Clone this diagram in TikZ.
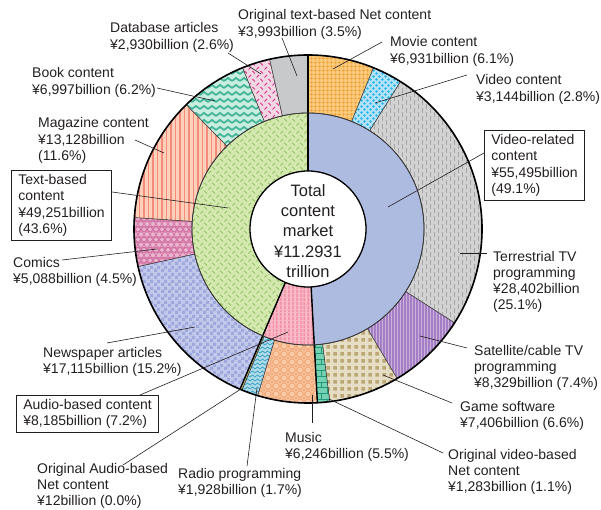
\documentclass[tikz,border=0pt]{standalone}
\usepackage{fontspec}
\setmainfont{Liberation Sans}
\usetikzlibrary{patterns,patterns.meta}

\definecolor{txt}{HTML}{231F20}
\definecolor{segline}{HTML}{3A3A3A}
\definecolor{movieB}{HTML}{FAC97A}\definecolor{movieP}{HTML}{EC9F36}
\definecolor{vidB}{HTML}{B2E3F8}\definecolor{vidP}{HTML}{2FB3E8}
\definecolor{terrB}{HTML}{D2D2D2}\definecolor{terrP}{HTML}{A5A5A5}
\definecolor{satB}{HTML}{CBB0DD}\definecolor{satP}{HTML}{A47FC4}
\definecolor{gameB}{HTML}{E6DDC5}\definecolor{gameP}{HTML}{BBA676}
\definecolor{ovB}{HTML}{74D2B3}\definecolor{ovP}{HTML}{22977A}
\definecolor{musB}{HTML}{FACCAA}\definecolor{musP}{HTML}{EE9D6B}
\definecolor{radB}{HTML}{AEDCEB}\definecolor{radP}{HTML}{4DA8C8}
\definecolor{oaB}{HTML}{BDB66C}
\definecolor{newsB}{HTML}{C3C9EB}\definecolor{newsP}{HTML}{9FA9DC}
\definecolor{comB}{HTML}{EBB5CE}\definecolor{comP}{HTML}{D275A6}
\definecolor{magB}{HTML}{FDD0BA}\definecolor{magP}{HTML}{F48C7C}
\definecolor{bookB}{HTML}{C9EDE0}\definecolor{bookP}{HTML}{46B698}
\definecolor{dbB}{HTML}{F2D7E3}\definecolor{dbP}{HTML}{D1358A}
\definecolor{otB}{HTML}{C8C9CA}
\definecolor{ivB}{HTML}{ADBBE0}
\definecolor{iaB}{HTML}{F9B8C6}\definecolor{iaP}{HTML}{F0869E}
\definecolor{itB}{HTML}{D3E8AE}\definecolor{itP}{HTML}{93C061}

\pgfdeclarepatternformonly{vdashes}{\pgfqpoint{-1pt}{-1pt}}{\pgfqpoint{9pt}{11pt}}{\pgfqpoint{8pt}{8pt}}{%
  \pgfsetlinewidth{0.9pt}%
  \pgfpathmoveto{\pgfqpoint{2pt}{0.5pt}}\pgfpathlineto{\pgfqpoint{2pt}{5.5pt}}%
  \pgfpathmoveto{\pgfqpoint{6pt}{4.5pt}}\pgfpathlineto{\pgfqpoint{6pt}{9.5pt}}%
  \pgfusepath{stroke}}
\pgfdeclarepatternformonly{hexdots}{\pgfqpoint{-1pt}{-1pt}}{\pgfqpoint{7pt}{7pt}}{\pgfqpoint{6pt}{6pt}}{%
  \pgfpathcircle{\pgfqpoint{1.5pt}{1.5pt}}{1.3pt}\pgfpathcircle{\pgfqpoint{4.5pt}{4.5pt}}{1.3pt}\pgfusepath{fill}}
\pgfdeclarepatternformonly{squares}{\pgfqpoint{0pt}{0pt}}{\pgfqpoint{6.5pt}{6.5pt}}{\pgfqpoint{6.5pt}{6.5pt}}{%
  \pgfpathrectangle{\pgfqpoint{1.5pt}{1.5pt}}{\pgfqpoint{3.6pt}{3.6pt}}\pgfusepath{fill}}
\pgfdeclarepatternformonly{zigsmall}{\pgfqpoint{-1pt}{-1pt}}{\pgfqpoint{6pt}{5pt}}{\pgfqpoint{5pt}{4pt}}{%
  \pgfsetlinewidth{0.9pt}\pgfpathmoveto{\pgfqpoint{0pt}{1pt}}\pgfpathlineto{\pgfqpoint{2.5pt}{3pt}}\pgfpathlineto{\pgfqpoint{5pt}{1pt}}\pgfusepath{stroke}}
\pgfdeclarepatternformonly{zigbig}{\pgfqpoint{-1pt}{-1pt}}{\pgfqpoint{9pt}{8pt}}{\pgfqpoint{8pt}{7pt}}{%
  \pgfsetlinewidth{1.8pt}\pgfpathmoveto{\pgfqpoint{0pt}{2pt}}\pgfpathlineto{\pgfqpoint{4pt}{5pt}}\pgfpathlineto{\pgfqpoint{8pt}{2pt}}\pgfusepath{stroke}}
\pgfdeclarepatternformonly{checks}{\pgfqpoint{0pt}{0pt}}{\pgfqpoint{7pt}{7pt}}{\pgfqpoint{7pt}{7pt}}{%
  \pgfpathrectangle{\pgfqpoint{0pt}{0pt}}{\pgfqpoint{3.5pt}{3.5pt}}\pgfpathrectangle{\pgfqpoint{3.5pt}{3.5pt}}{\pgfqpoint{3.5pt}{3.5pt}}\pgfusepath{fill}}
\pgfdeclarepatternformonly{honey}{\pgfqpoint{-3pt}{-3pt}}{\pgfqpoint{9pt}{13.4pt}}{\pgfqpoint{6pt}{10.4pt}}{%
  \pgfsetlinewidth{0.7pt}\pgfpathcircle{\pgfqpoint{0pt}{0pt}}{2.6pt}\pgfpathcircle{\pgfqpoint{3pt}{5.2pt}}{2.6pt}%
  \pgfpathcircle{\pgfqpoint{6pt}{0pt}}{2.6pt}\pgfpathcircle{\pgfqpoint{0pt}{10.4pt}}{2.6pt}\pgfpathcircle{\pgfqpoint{6pt}{10.4pt}}{2.6pt}\pgfusepath{stroke}}
\pgfdeclarepatternformonly{ticks}{\pgfqpoint{-1pt}{-1pt}}{\pgfqpoint{9pt}{9pt}}{\pgfqpoint{8pt}{8pt}}{%
  \pgfsetlinewidth{0.8pt}\pgfpathmoveto{\pgfqpoint{0.5pt}{0.5pt}}\pgfpathlineto{\pgfqpoint{3pt}{3pt}}%
  \pgfpathmoveto{\pgfqpoint{4.5pt}{7pt}}\pgfpathlineto{\pgfqpoint{7pt}{4.5pt}}\pgfusepath{stroke}}
\pgfdeclarepatternformonly{lattice}{\pgfqpoint{-1pt}{-1pt}}{\pgfqpoint{9pt}{9pt}}{\pgfqpoint{8pt}{8pt}}{%
  \pgfsetlinewidth{0.6pt}\pgfpathcircle{\pgfqpoint{4pt}{4pt}}{3pt}%
  \pgfpathmoveto{\pgfqpoint{0pt}{0pt}}\pgfpathlineto{\pgfqpoint{8pt}{0pt}}%
  \pgfpathmoveto{\pgfqpoint{0pt}{0pt}}\pgfpathlineto{\pgfqpoint{0pt}{8pt}}\pgfusepath{stroke}}

\newcommand\lblfont{\fontsize{14}{16.3}\selectfont}
\newcommand\ringseg[5]{%
  \path[#5] ([shift={(C)}]#1:#4) arc[start angle=#1,end angle=#2,radius=#4pt]
    -- ([shift={(C)}]#2:#3) arc[start angle=#2,end angle=#1,radius=#3pt] -- cycle;}

\tikzset{
  seg/.style={draw=segline, line width=0.5pt},
  lab/.style={align=left, inner sep=0pt, anchor=base west, font=\lblfont, text=txt},
  leader/.style={draw=txt, line width=0.6pt},
  labbox/.style={draw=txt, line width=0.7pt, align=left, inner xsep=7pt, inner ysep=4pt, anchor=north west, font=\lblfont, text=txt},
}

\begin{document}
\begin{tikzpicture}[x=1pt,y=1pt]
\useasboundingbox (0,0) rectangle (601,-510);
\coordinate (C) at (308,-229);

% outer ring
\ringseg{90}{67.905}{116}{174}{seg, preaction={fill=movieB}, pattern={Hatch[angle=0,distance=4pt,line width=0.7pt]}, pattern color=movieP}
\ringseg{67.905}{57.883}{116}{174}{seg, preaction={fill=vidB}, pattern=hexdots, pattern color=vidP}
\ringseg{57.883}{-32.657}{116}{174}{seg, preaction={fill=terrB}, pattern=vdashes, pattern color=terrP}
\ringseg{-32.657}{-59.208}{116}{174}{seg, preaction={fill=satB}, pattern={Lines[angle=90,distance=3pt,line width=1.1pt]}, pattern color=satP}
\ringseg{-59.208}{-82.817}{116}{174}{seg, preaction={fill=gameB}, pattern=squares, pattern color=gameP}
\ringseg{-82.817}{-86.907}{116}{174}{seg, preaction={fill=ovB}, pattern=bricks, pattern color=ovP}
\ringseg{-86.907}{-106.818}{116}{174}{seg, preaction={fill=musB}, pattern=lattice, pattern color=musP}
\ringseg{-106.818}{-112.3}{116}{174}{seg, preaction={fill=radB}, pattern=zigsmall, pattern color=radP}
\ringseg{-112.3}{-113.0}{116}{174}{seg, fill=oaB}
\ringseg{-113.0}{-167.554}{116}{174}{seg, preaction={fill=newsB}, pattern=checks, pattern color=newsP}
\ringseg{-167.554}{-183.776}{116}{174}{seg, preaction={fill=comB}, pattern=honey, pattern color=comP}
\ringseg{-183.776}{-225.627}{116}{174}{seg, preaction={fill=magB}, pattern={Lines[angle=90,distance=4.5pt,line width=1.8pt]}, pattern color=magP}
\ringseg{-225.627}{-247.932}{116}{174}{seg, preaction={fill=bookB}, pattern=zigbig, pattern color=bookP}
\ringseg{-247.932}{-257.273}{116}{174}{seg, preaction={fill=dbB}, pattern=ticks, pattern color=dbP}
\ringseg{-257.273}{-270}{116}{174}{seg, fill=otB}

% inner ring
\ringseg{90}{-86.907}{58}{116}{seg, fill=ivB}
\ringseg{-86.907}{-113.0}{58}{116}{seg, preaction={fill=iaB}, pattern={Lines[angle=90,distance=4pt,line width=1.6pt]}, pattern color=iaP}
\ringseg{-113.0}{-270}{58}{116}{seg, preaction={fill=itB}, pattern=ticks, pattern color=itP}

% heavy lines
\foreach \a in {90,-86.907,-113.0}
  \draw[line width=1.4pt, black] ([shift={(C)}]\a:58) -- ([shift={(C)}]\a:174);
\draw[line width=0.8pt, segline] (C) circle[radius=116pt];
\draw[line width=1.6pt, black] (C) circle[radius=174pt];
\draw[line width=1.3pt, black, fill=white] (C) circle[radius=58pt];
\node[align=center, inner sep=0pt, text=txt, font=\fontsize{16.5}{20.3}\selectfont] (tot) at (308,-231)
  {Total\\content\\market\\¥11.2931\\trillion};

% labels (base = baseline of last line)
\node[lab] (lOT) at (238,-36.3) {Original text-based Net content\\¥3,993billion (3.5\%)};
\node[lab] (lDB) at (110,-49.3) {Database articles\\¥2,930billion (2.6\%)};
\node[lab] (lBK) at (32,-94.3) {Book content\\¥6,997billion (6.2\%)};
\node[lab] (lMG) at (38,-160.6) {Magazine content\\¥13,128billion\\(11.6\%)};
\node[labbox] (lTX) at (11,-170) {Text-based\\content\\¥49,251billion\\(43.6\%)};
\node[lab] (lCM) at (13,-283.3) {Comics\\¥5,088billion (4.5\%)};
\node[lab] (lNP) at (43,-373.3) {Newspaper articles\\¥17,115billion (15.2\%)};
\node[labbox] (lAU) at (16,-395) {Audio-based content\\¥8,185billion (7.2\%)};
\node[lab] (lOA) at (37,-505.6) {Original Audio-based\\Net content\\¥12billion (0.0\%)};
\node[lab] (lRD) at (178,-494.3) {Radio programming\\¥1,928billion (1.7\%)};
\node[lab] (lMU) at (285,-458.3) {Music\\¥6,246billion (5.5\%)};
\node[lab] (lOV) at (448,-491.6) {Original video-based\\Net content\\¥1,283billion (1.1\%)};
\node[lab] (lGM) at (460,-427.3) {Game software\\¥7,406billion (6.6\%)};
\node[lab] (lST) at (474,-387.6) {Satellite/cable TV\\programming\\¥8,329billion (7.4\%)};
\node[lab] (lTR) at (493,-309.9) {Terrestrial TV\\programming\\¥28,402billion\\(25.1\%)};
\node[labbox] (lVR) at (484,-130) {Video-related\\content\\¥55,495billion\\(49.1\%)};
\node[lab] (lVC) at (476,-101.3) {Video content\\¥3,144billion (2.8\%)};
\node[lab] (lMV) at (390,-63.3) {Movie content\\¥6,931billion (6.1\%)};

% leader end points
\coordinate (sOT) at (282,-38);  \coordinate (pOT) at (297,-76);
\coordinate (sDB) at (228,-53);  \coordinate (pDB) at (261,-74);
\coordinate (sBK) at (157,-88);  \coordinate (pBK) at (215,-101);
\coordinate (sMG) at (135,-140); \coordinate (pMG) at (164,-153);
\coordinate (pTX) at (228,-208);
\coordinate (sCM) at (62,-260);  \coordinate (pCM) at (157,-249);
\coordinate (sNP) at (107,-343); \coordinate (pNP) at (195,-327);
\coordinate (pAU) at (288,-332);
\coordinate (sOA) at (123,-465); \coordinate (pOA) at (241,-389);
\coordinate (sRD) at (247,-466); \coordinate (pRD) at (257,-388);
\coordinate (sMU) at (312,-423); \coordinate (pMU) at (312,-395);
\coordinate (sOV) at (443,-453); \coordinate (pOV) at (329,-399);
\coordinate (sGM) at (452,-403); \coordinate (pGM) at (383,-375);
\coordinate (sST) at (467,-348); \coordinate (pST) at (420,-336);
\coordinate (sTR) at (487,-253); \coordinate (pTR) at (460,-253);
\coordinate (pVR) at (388,-207);
\coordinate (sVC) at (467,-75);  \coordinate (pVC) at (375,-103);
\coordinate (sMV) at (382,-42);  \coordinate (pMV) at (333,-69);

\draw[leader] (sOT) -- (pOT);
\draw[leader] (sDB) -- (pDB);
\draw[leader] (sBK) -- (pBK);
\draw[leader] (sMG) -- (pMG);
\draw[leader] (lTX.east |- 0,-192) -- (pTX);
\draw[leader] (sCM) -- (pCM);
\draw[leader] (sNP) -- (pNP);
\draw[leader] (lAU.north -| 140,0) -- (pAU);
\draw[leader] (sOA) -- (pOA);
\draw[leader] (sRD) -- (pRD);
\draw[leader] (sMU) -- (pMU);
\draw[leader] (sOV) -- (pOV);
\draw[leader] (sGM) -- (pGM);
\draw[leader] (sST) -- (pST);
\draw[leader] (sTR) -- (pTR);
\draw[leader] (lVR.west |- 0,-153) -- (pVR);
\draw[leader] (sVC) -- (pVC);
\draw[leader] (sMV) -- (pMV);
\end{tikzpicture}
\end{document}
